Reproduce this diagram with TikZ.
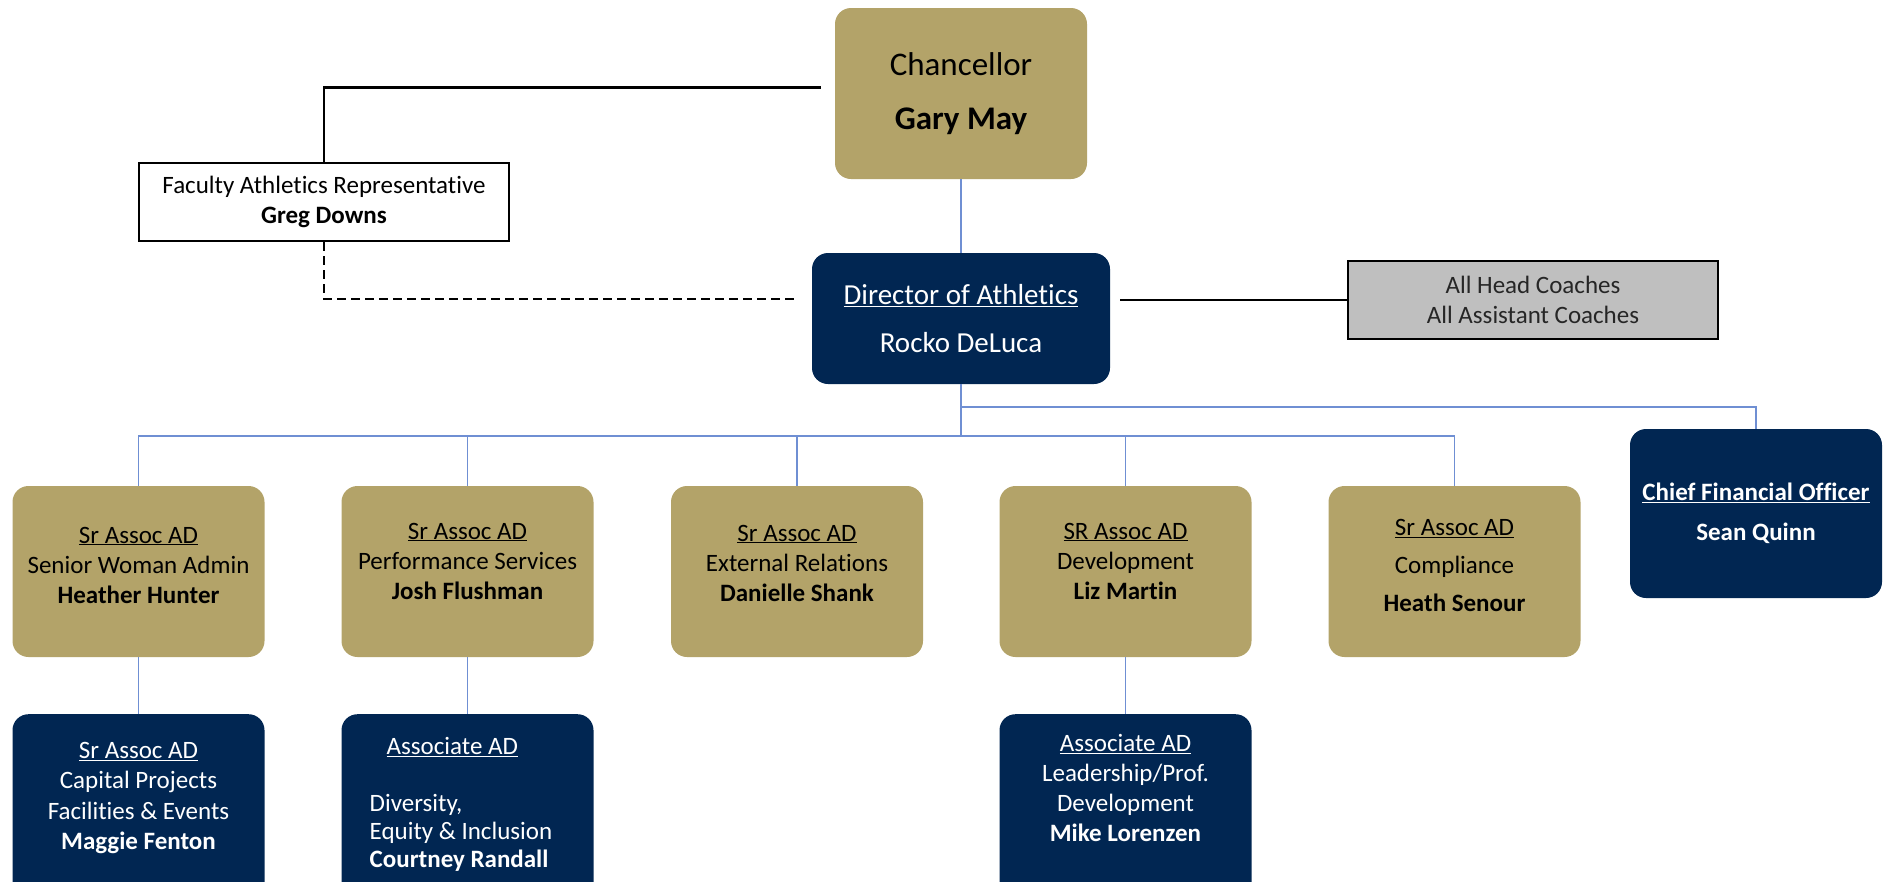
\documentclass[tikz,border=0pt]{standalone}
\usepackage{fontspec}
\setmainfont{Carlito}[Ligatures={NoCommon}]
\usetikzlibrary{positioning}
\definecolor{gtgold}{HTML}{B3A369}
\definecolor{gtnavy}{HTML}{012652}
\definecolor{coachgray}{HTML}{BFBFBF}
\definecolor{treeblue}{HTML}{6F8FD3}
\tikzset{
  goldbox/.style={fill=gtgold, rounded corners=16pt, minimum width=252pt, minimum height=171pt, inner sep=0pt},
  navybox/.style={fill=gtnavy, rounded corners=16pt, minimum width=252pt, minimum height=171pt, inner sep=0pt, text=white},
  plainbox/.style={draw=black, line width=2.5pt, minimum width=370pt, minimum height=78pt, align=center, font=\fontsize{25}{30}\selectfont},
  boxtext/.style={align=center, inner sep=0pt, font=\fontsize{25}{30}\selectfont},
  tree/.style={draw=treeblue, line width=1.8pt},
  link/.style={draw=black, line width=2.5pt},
}
\begin{document}
\begin{tikzpicture}[x=1pt,y=-1pt]
            \useasboundingbox (0,0) rectangle (1892,881);
            \clip (0,0) rectangle (1892,881);
            % top of the chart
            \node[goldbox, align=center, font=\fontsize{33}{40}\selectfont] (chancellor) at (961,93.5) {Chancellor\\[14pt]\textbf{Gary May}};
            \node[navybox, minimum width=298pt, minimum height=131pt, align=center, font=\fontsize{29}{35}\selectfont] (director) at (961,318.5) {\underline{Director of Athletics}\\[13pt]Rocko DeLuca};
            \node[plainbox, fill=white] (far) at (324,202) {Faculty Athletics Representative\\\textbf{Greg Downs}};
            \node[plainbox, fill=coachgray, text=black!85] (coaches) at (1533,300) {All Head Coaches\\All Assistant Coaches};
            \draw[link] (far.north) |- ([xshift=-14pt,yshift=6pt]chancellor.west);
            \draw[link, dash pattern=on 9pt off 5pt] (far.south) |- ([xshift=-13pt,yshift=19.5pt]director.west);
            \draw[link] ([xshift=10pt]director.east |- coaches.west) -- (coaches.west);
            \draw[tree] (chancellor.south) -- (director.north);
            % senior associate ADs
            \node[goldbox] (hunter) at (138.5,571.5) {};
            \node[goldbox] (flushman) at (467.5,571.5) {};
            \node[goldbox] (shank) at (797,571.5) {};
            \node[goldbox] (martin) at (1125.5,571.5) {};
            \node[goldbox] (senour) at (1454.5,571.5) {};
            \node[navybox, minimum height=169pt, align=center, font=\fontsize{25}{30}\selectfont] (cfo) at (1756,513.5) {\underline{\textbf{Chief Financial Officer}}\\[10pt]\textbf{Sean Quinn}};
            \node[boxtext] (hunterT) at ([yshift=6.5pt]hunter.center) {\underline{Sr Assoc AD}\\Senior Woman Admin\\\textbf{Heather Hunter}};
            \node[boxtext] (flushmanT) at ([yshift=10.5pt]flushman.center) {\underline{Sr Assoc AD}\\Performance Services\\\textbf{Josh Flushman}};
            \node[boxtext] (shankT) at ([yshift=8.5pt]shank.center) {\underline{Sr Assoc AD}\\External Relations\\\textbf{Danielle Shank}};
            \node[boxtext] (martinT) at ([yshift=10.5pt]martin.center) {\underline{SR Assoc AD}\\Development\\\textbf{Liz Martin}};
            \node[boxtext] (senourT) at ([yshift=6pt]senour.center) {\underline{Sr Assoc AD}\\[8pt]Compliance\\[8pt]\textbf{Heath Senour}};
            \coordinate (cfobus) at (961,407);
            \coordinate (bus) at (961,436);
            \draw[tree] (director.south) -- (bus);
            \draw[tree] (cfobus) -| (cfo.north);
            \foreach \n in {hunter,flushman,shank,martin,senour}
                \draw[tree] (bus) -| (\n.north);
            % bottom row, cut off by the page
            \node[navybox, anchor=north, minimum height=200pt] (fenton) at (138.5,714) {};
            \node[navybox, anchor=north, minimum height=200pt] (randall) at (467.5,714) {};
            \node[navybox, anchor=north, minimum height=200pt] (lorenzen) at (1125.5,714) {};
            \node[boxtext, text=white, font=\fontsize{25}{30.5}\selectfont] (fentonT) at ([yshift=-84pt]fenton.north) {\underline{Sr Assoc AD}\\Capital Projects\\Facilities \& Events\\\textbf{Maggie Fenton}};
            \node[boxtext, text=white, align=left, font=\fontsize{25}{28}\selectfont] (randallT) at ([xshift=-6.5pt,yshift=-90pt]randall.north) {\hspace*{17pt}\underline{Associate AD}\\[29pt]Diversity,\\Equity \& Inclusion\\\textbf{Courtney Randall}};
            \node[boxtext, text=white] (lorenzenT) at ([yshift=-74pt]lorenzen.north) {\underline{Associate AD}\\Leadership/Prof.\\Development\\\textbf{Mike Lorenzen}};
            \foreach \a/\b in {hunter/fenton,flushman/randall,martin/lorenzen}
                \draw[tree] (\a.south) -- (\b.north);
        \end{tikzpicture}
\end{document}
